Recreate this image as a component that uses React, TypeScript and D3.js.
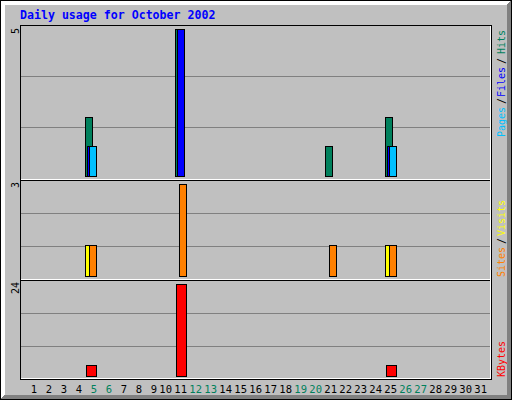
import React from "react";
import * as d3 from "d3";

// Daily usage for October 2002 (webalizer style)
const days = [
  1, 2, 3, 4, 5, 6, 7, 8, 9, 10, 11, 12, 13, 14, 15, 16,
  17, 18, 19, 20, 21, 22, 23, 24, 25, 26, 27, 28, 29, 30, 31,
];
const weekendDays = [5, 6, 12, 13, 19, 20, 26, 27];

const hits = [0, 0, 0, 0, 2, 0, 0, 0, 0, 0, 5, 0, 0, 0, 0, 0, 0, 0, 0, 0, 1, 0, 0, 0, 2, 0, 0, 0, 0, 0, 0];
const files = [0, 0, 0, 0, 1, 0, 0, 0, 0, 0, 5, 0, 0, 0, 0, 0, 0, 0, 0, 0, 0, 0, 0, 0, 1, 0, 0, 0, 0, 0, 0];
const pages = [0, 0, 0, 0, 1, 0, 0, 0, 0, 0, 0, 0, 0, 0, 0, 0, 0, 0, 0, 0, 0, 0, 0, 0, 1, 0, 0, 0, 0, 0, 0];
const visits = [0, 0, 0, 0, 1, 0, 0, 0, 0, 0, 0, 0, 0, 0, 0, 0, 0, 0, 0, 0, 0, 0, 0, 0, 1, 0, 0, 0, 0, 0, 0];
const sites = [0, 0, 0, 0, 1, 0, 0, 0, 0, 0, 3, 0, 0, 0, 0, 0, 0, 0, 0, 0, 1, 0, 0, 0, 1, 0, 0, 0, 0, 0, 0];
const kbytes = [0, 0, 0, 0, 2.8, 0, 0, 0, 0, 0, 24, 0, 0, 0, 0, 0, 0, 0, 0, 0, 0, 0, 0, 0, 2.8, 0, 0, 0, 0, 0, 0];

const title = "Daily usage for October 2002";

const GREY = "#c0c0c0";
const DKGREY = "#808080";
const HIT = "#00805c";
const FILE = "#0000ff";
const PAGE = "#00c0ff";
const VISIT = "#ffff00";
const SITE = "#ff8000";
const KBYTE = "#ff0000";
const mono = "'DejaVu Sans Mono', monospace";

const x = d3.scaleLinear().domain([1, 31]).range([25, 475]);

const maxHits = d3.max(hits) as number;
const maxSites = Math.max(d3.max(sites) as number, d3.max(visits) as number);
const maxKb = d3.max(kbytes) as number;

const yTop = d3.scaleLinear().domain([0, maxHits]).range([176, 29]);
const yMid = d3.scaleLinear().domain([0, maxSites]).range([276, 184]);
const yBot = d3.scaleLinear().domain([0, maxKb]).range([376, 284]);

type Series = { values: number[]; color: string; dx: number; w: number };

const Bars = ({ series, y }: { series: Series[]; y: d3.ScaleLinear<number, number> }) => {
  const base = y(0);
  return (
    <g>
      {series.map((s, si) =>
        s.values.map((v, i) => {
          if (v <= 0) return null;
          const x1 = x(days[i]) + s.dx;
          const y1 = Math.floor(y(v));
          return (
            <rect
              key={si + "-" + i}
              x={x1 + 0.5}
              y={y1 + 0.5}
              width={s.w}
              height={base - y1}
              fill={s.color}
              stroke="#000"
              strokeWidth={1}
            />
          );
        })
      )}
    </g>
  );
};

const UpText = ({ x0, y0, text, color }: { x0: number; y0: number; text: string; color: string }) => (
  <text
    transform={`translate(${x0},${y0}) rotate(-90)`}
    fill={color}
    fontFamily={mono}
    fontSize={10}
  >
    {text}
  </text>
);

const hline = (y: number, x1: number, x2: number, c: string, k: string) => (
  <line key={k} x1={x1} x2={x2 + 1} y1={y + 0.5} y2={y + 0.5} stroke={c} strokeWidth={1} />
);
const vline = (xx: number, y1: number, y2: number, c: string, k: string) => (
  <line key={k} x1={xx + 0.5} x2={xx + 0.5} y1={y1} y2={y2 + 1} stroke={c} strokeWidth={1} />
);

export default function App() {
  const bevel = [1, 2, 3, 4];
  const grid = [76, 127, 213, 246, 313, 346];

  return (
    <div style={{ position: "absolute", left: 0, top: 0 }}>
      <svg width={512} height={400} style={{ display: "block" }} shapeRendering="crispEdges">
        <rect x={0} y={0} width={512} height={400} fill={GREY} />
        {bevel.map((i) => (
          <g key={"b" + i}>
            {hline(i, i, 511 - i, "#fff", "t")}
            {vline(i, i, 399 - i, "#fff", "l")}
            {hline(399 - i, i, 511 - i, DKGREY, "bt")}
            {vline(511 - i, i, 399 - i, DKGREY, "r")}
          </g>
        ))}
        <rect x={0.5} y={0.5} width={511} height={399} fill="none" stroke="#000" />

        <text x={20} y={19} fill="#0000ff" fontFamily={mono} fontWeight="bold" fontSize={11.6}>
          {title}
        </text>

        {/* grid lines */}
        {grid.map((g) => hline(g, 21, 489, DKGREY, "g" + g))}

        {/* panel frame */}
        {hline(25, 20, 491, "#000", "ft")}
        {vline(20, 25, 379, "#000", "fl")}
        {hline(379, 20, 491, "#000", "fb")}
        {vline(491, 25, 379, "#000", "fr")}
        {hline(378, 21, 490, "#fff", "fwb")}
        {vline(490, 26, 378, "#fff", "fwr")}
        {hline(179, 21, 489, "#fff", "w1")}
        {hline(180, 21, 489, "#000", "k1")}
        {hline(279, 21, 489, "#fff", "w2")}
        {hline(280, 21, 489, "#000", "k2")}

        <Bars
          y={yTop}
          series={[
            { values: hits, color: HIT, dx: 0, w: 7 },
            { values: files, color: FILE, dx: 2, w: 7 },
            { values: pages, color: PAGE, dx: 4, w: 7 },
          ]}
        />
        <Bars
          y={yMid}
          series={[
            { values: visits, color: VISIT, dx: 0, w: 7 },
            { values: sites, color: SITE, dx: 4, w: 7 },
          ]}
        />
        <Bars y={yBot} series={[{ values: kbytes, color: KBYTE, dx: 1, w: 10 }]} />

        {/* max labels */}
        <UpText x0={19} y0={34} text={String(maxHits)} color="#000" />
        <UpText x0={19} y0={188} text={String(maxSites)} color="#000" />
        <UpText x0={19} y0={294} text={String(Math.round(maxKb))} color="#000" />

        {/* legends */}
        <UpText x0={505} y0={137} text="Pages" color={PAGE} />
        <UpText x0={505} y0={104} text="/" color="#000" />
        <UpText x0={505} y0={97} text="Files" color={FILE} />
        <UpText x0={505} y0={64} text="/" color="#000" />
        <UpText x0={505} y0={54} text="Hits" color={HIT} />

        <UpText x0={505} y0={277} text="Sites" color={SITE} />
        <UpText x0={505} y0={244} text="/" color="#000" />
        <UpText x0={505} y0={236} text="Visits" color={VISIT} />

        <UpText x0={505} y0={377} text="KBytes" color={KBYTE} />

        {/* day labels */}
        {days.map((d) => (
          <text
            key={"d" + d}
            x={x(d) + 12}
            y={393}
            textAnchor="end"
            fill={weekendDays.includes(d) ? HIT : "#000"}
            fontFamily={mono}
            fontSize={10.5}
          >
            {d}
          </text>
        ))}
      </svg>
    </div>
  );
}
